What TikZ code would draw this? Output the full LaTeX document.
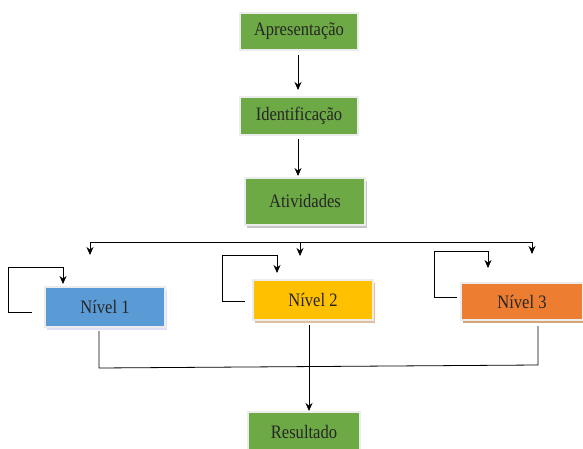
\documentclass[tikz,border=0pt]{standalone}
\usepackage{fontspec}
\setmainfont{Liberation Serif}
\newfontfamily\tnr[FakeStretch=0.87]{Liberation Serif}
\usetikzlibrary{arrows.meta,shadows}
\definecolor{grn}{HTML}{6DA944}
\definecolor{blu}{HTML}{5B9BD5}
\definecolor{yel}{HTML}{FFC000}
\definecolor{org}{HTML}{ED7D31}
\begin{document}
\begin{tikzpicture}[x=1pt,y=-1pt,
  box/.style={draw=gray!15,line width=1.5pt,inner sep=0pt,font=\tnr\fontsize{19}{21}\selectfont,text=black!85},
  shad/.style={drop shadow={shadow xshift=2pt,shadow yshift=-3pt,fill=#1,opacity=1}},
  ln/.style={draw=black,line width=0.8pt},
  arr/.style={ln,-{Stealth[length=8pt,width=7pt]}}]
\useasboundingbox (0,0) rectangle (583,449);
\fill[white] (0,0) rectangle (583,449);
% top chain
\node[box,fill=grn,minimum width=118pt,minimum height=37pt] (apr) at (299,31.5) {Apresentação};
\node[box,fill=grn,minimum width=118pt,minimum height=38pt] (ide) at (299,116) {Identificação};
\node[box,fill=grn,minimum width=120pt,minimum height=47pt,shad=gray!45] (ati) at (305,201.5) {Atividades};
% levels
\node[box,fill=blu,minimum width=120pt,minimum height=40pt,shad=gray!35!blue!15] (n1) at (105,307) {Nível 1};
\node[box,fill=yel,minimum width=120pt,minimum height=40pt,shad=brown!50] (n2) at (313,300) {Nível 2};
\node[box,fill=org,minimum width=122pt,minimum height=37pt,shad=brown!70] (n3) at (522,301.5) {Nível 3};
% result
\node[box,fill=grn,minimum width=112pt,minimum height=40pt] (res) at (304,432) {Resultado};
% chain arrows
\draw[arr] (298,55) -- (298,90);
\draw[arr] (298,139) -- (298,176);
% distribution line
\coordinate (hl) at (90,242);
\coordinate (hr) at (532,242);
\draw[ln] (hl) -- (hr);
\draw[arr] (hl) -- (90,255);
\draw[arr] (300,242) -- (300,256);
\draw[arr] (hr) -- (532,254);
% feedback loops
\draw[ln] (32,312) -- (8,312) -- (8,267) -- (63,267);
\draw[arr] (63,267) -- (63,284);
\draw[ln] (245,301) -- (222,301) -- (222,255) -- (277,255);
\draw[arr] (277,255) -- (277,273);
\draw[ln] (457,297) -- (434,297) -- (434,251) -- (488,251);
\draw[arr] (488,251) -- (488,268);
% collection
\draw[ln] (99,331) -- (99,368) -- (538,365) -- (538,326);
\draw[ln] (309,325) -- (309,366);
\coordinate (rt) at (309,411);
\draw[arr] (309,366) -- (rt);
\end{tikzpicture}
\end{document}
